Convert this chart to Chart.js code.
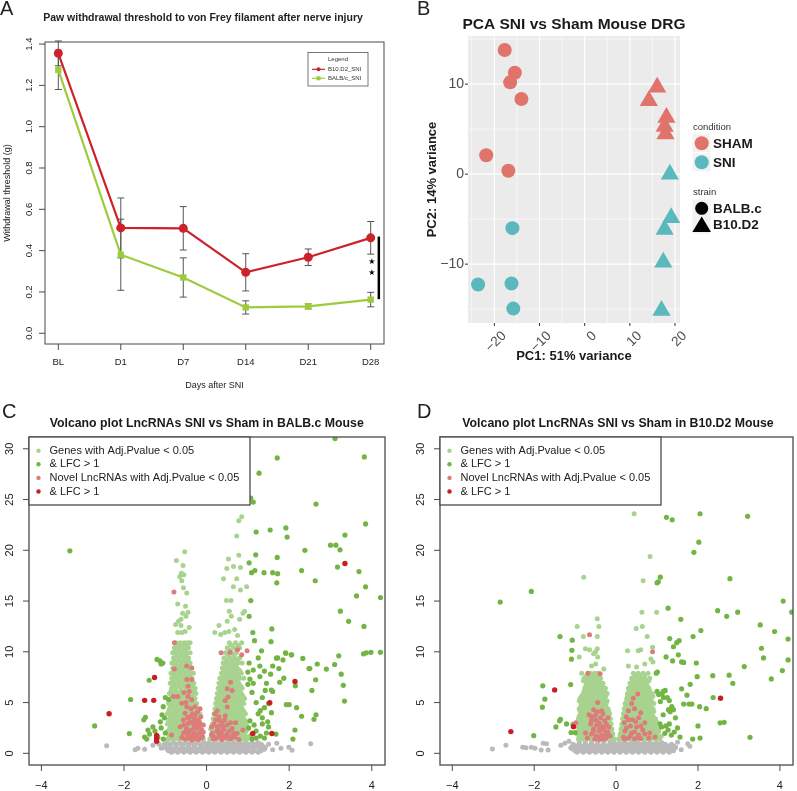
<!DOCTYPE html>
<html>
<head>
<meta charset="utf-8">
<title>SNI figure</title>
<script src="https://cdn.jsdelivr.net/npm/chart.js@4.4.1/dist/chart.umd.min.js"></script>
<style>
  body { margin: 0; background: #fff; }
  #page { position: relative; width: 797px; height: 791px; overflow: hidden; }
  .panel { position: absolute; }
  canvas { display: block; }
</style>
</head>
<body>
<div id="page">
  <div class="panel" style="left:0;top:0"><canvas id="chartA" width="400" height="395"></canvas></div>
  <div class="panel" style="left:400px;top:0"><canvas id="chartB" width="397" height="395"></canvas></div>
  <div class="panel" style="left:0;top:395px"><canvas id="chartC" width="400" height="396"></canvas></div>
  <div class="panel" style="left:400px;top:395px"><canvas id="chartD" width="397" height="396"></canvas></div>
</div>
<script>
/* ── DATA ─────────────────────────────────────────────── */

// A: von Frey thresholds (mean ± sem)
const days = ["BL", "D1", "D7", "D14", "D21", "D28"];
const b10Mean  = [1.355, 0.51, 0.508, 0.295, 0.368, 0.462];
const b10Sem   = [0.06, 0.145, 0.105, 0.09, 0.04, 0.079];
const balbMean = [1.275, 0.38, 0.27, 0.125, 0.13, 0.163];
const balbSem  = [0.095, 0.172, 0.095, 0.032, 0.012, 0.035];
const thresholdTicks = [0, 0.2, 0.4, 0.6, 0.8, 1.0, 1.2, 1.4];
const sigSpan  = [0.468, 0.165];
const sigStars = [0.345, 0.292];

// B: PCA coordinates [PC1, PC2]
const shamBalb = [[-17.7, 13.8], [-15.45, 11.26], [-16.5, 10.2], [-14.0, 8.35], [-21.8, 2.1], [-16.9, 0.37]];
const shamB10  = [[16.05, 9.65], [14.2, 8.15], [18.1, 6.3], [17.7, 5.3], [17.9, 4.45]];
const sniBalb  = [[-16.0, -6.0], [-23.6, -12.26], [-16.2, -12.15], [-15.8, -14.94]];
const sniB10   = [[18.85, -0.02], [19.15, -4.85], [17.7, -6.15], [17.4, -9.8], [17.0, -15.15]];
const pcaXTicks = [-20, -10, 0, 10, 20];
const pcaYTicks = [-10, 0, 10];

// C/D shared ticks
const lfcTicks = [-4, -2, 0, 2, 4];
const padjTicks = [0, 5, 10, 15, 20, 25, 30];
const volcanoLegend = ["Genes with Adj.Pvalue < 0.05", "& LFC > 1", "Novel LncRNAs with Adj.Pvalue < 0.05", "& LFC > 1"];

// C: BALB.c volcano. rows are [y, x, x, ...], pairs are [x, y]
const cGreyRows = [
  [0.1, -0.85, -0.7, -0.55, -0.4, -0.25, -0.1, 0.05, 0.2, 0.35, 0.5, 0.65, 0.8, 0.95, 1.1, 1.25],
  [0.25, -0.92, -0.78, -0.62, -0.48, -0.32, -0.18, -0.02, 0.12, 0.28, 0.42, 0.58, 0.72, 0.88, 1.02, 1.18, 1.32],
  [0.4, -0.95, -0.8, -0.65, -0.5, -0.35, -0.2, -0.05, 0.1, 0.25, 0.4, 0.55, 0.7, 0.85, 1.0, 1.15, 1.3, 1.4],
  [0.58, -1.05, -0.9, -0.75, -0.58, -0.42, -0.28, -0.12, 0.05, 0.2, 0.35, 0.5, 0.65, 0.8, 0.95, 1.12, 1.28, 1.42],
  [0.75, -1.0, -0.88, -0.74, -0.6, -0.45, -0.3, -0.15, 0.0, 0.15, 0.3, 0.45, 0.6, 0.75, 0.9, 1.05, 1.2, 1.35],
  [0.9, -1.02, -0.88, -0.72, -0.58, -0.42, -0.28, -0.12, 0.02, 0.12, 0.28, 0.42, 0.58, 0.72, 0.88, 1.02, 1.18, 1.32],
  [1.05, -0.95, -0.8, -0.65, -0.5, -0.35, -0.2, -0.06, 0.06, 0.2, 0.35, 0.5, 0.65, 0.8, 0.95, 1.1, 1.25]
];
const cGreyOut = [[-2.42, 0.75], [-1.73, 0.35], [-1.66, 0.5], [-1.5, 0.4], [-1.3, 0.8], [-1.2, 1.1], [-1.1, 0.5], [-1.15, 0.9],
  [1.6, 0.35], [1.5, 0.9], [1.7, 1.0], [2.52, 0.95], [1.99, 0.6], [2.07, 0.3], [1.8, 0.5]];
const cLightRows = [
  [1.4, -0.95, -0.85, -0.75, -0.65, -0.55, -0.45, -0.35, -0.25, -0.15, -0.08, 0.08, 0.18, 0.28, 0.38, 0.48, 0.58, 0.68, 0.78, 0.88, 0.98],
  [1.65, -0.9, -0.8, -0.7, -0.6, -0.5, -0.4, -0.3, -0.2, -0.1, 0.13, 0.23, 0.33, 0.43, 0.53, 0.63, 0.73, 0.83, 0.93, 1.03],
  [1.9, -0.92, -0.82, -0.7, -0.6, -0.5, -0.4, -0.3, -0.2, -0.12, 0.12, 0.22, 0.32, 0.42, 0.52, 0.62, 0.72, 0.82, 0.92],
  [2.15, -0.95, -0.85, -0.75, -0.64, -0.52, -0.4, -0.28, -0.17, 0.15, 0.25, 0.35, 0.45, 0.55, 0.65, 0.75, 0.85, 0.95],
  [2.4, -0.9, -0.8, -0.7, -0.58, -0.46, -0.34, -0.22, -0.13, 0.1, 0.2, 0.3, 0.4, 0.5, 0.6, 0.7, 0.8, 0.9, 1.0],
  [2.65, -0.87, -0.77, -0.66, -0.54, -0.42, -0.3, -0.19, 0.12, 0.22, 0.33, 0.43, 0.53, 0.63, 0.73, 0.83, 0.93],
  [2.9, -0.95, -0.84, -0.74, -0.62, -0.5, -0.38, -0.27, -0.15, 0.14, 0.24, 0.34, 0.46, 0.56, 0.66, 0.76, 0.86, 0.96],
  [3.15, -0.92, -0.82, -0.71, -0.6, -0.48, -0.36, -0.24, -0.17, 0.2, 0.3, 0.41, 0.52, 0.62, 0.73, 0.84, 0.95],
  [3.4, -0.9, -0.8, -0.68, -0.56, -0.44, -0.32, -0.2, 0.16, 0.26, 0.36, 0.48, 0.58, 0.68, 0.8, 0.9],
  [3.65, -0.87, -0.76, -0.64, -0.52, -0.4, -0.28, -0.2, 0.22, 0.33, 0.44, 0.55, 0.65, 0.76, 0.88],
  [3.9, -0.95, -0.85, -0.73, -0.6, -0.48, -0.36, -0.24, -0.16, 0.18, 0.28, 0.38, 0.5, 0.6, 0.7, 0.82, 0.94],
  [4.15, -0.92, -0.8, -0.69, -0.57, -0.45, -0.33, -0.22, 0.24, 0.34, 0.46, 0.57, 0.68, 0.8, 0.9],
  [4.4, -0.9, -0.78, -0.66, -0.54, -0.42, -0.3, -0.2, 0.2, 0.3, 0.42, 0.52, 0.62, 0.74, 0.86],
  [4.65, -0.86, -0.74, -0.62, -0.5, -0.38, -0.28, 0.26, 0.38, 0.49, 0.6, 0.71, 0.83],
  [4.9, -0.92, -0.82, -0.7, -0.58, -0.46, -0.34, -0.24, 0.22, 0.32, 0.44, 0.54, 0.66, 0.78, 0.9],
  [5.15, -0.9, -0.79, -0.67, -0.55, -0.43, -0.31, 0.28, 0.39, 0.5, 0.61, 0.73, 0.85],
  [5.4, -0.88, -0.76, -0.64, -0.52, -0.4, -0.28, 0.24, 0.34, 0.46, 0.56, 0.68, 0.8, 0.92],
  [5.65, -0.84, -0.72, -0.6, -0.48, -0.36, 0.3, 0.42, 0.53, 0.64, 0.76, 0.88],
  [5.9, -0.9, -0.8, -0.68, -0.56, -0.44, -0.32, -0.26, 0.26, 0.38, 0.48, 0.6, 0.72, 0.84],
  [6.15, -0.86, -0.74, -0.62, -0.5, -0.38, -0.3, 0.32, 0.44, 0.56, 0.68, 0.8],
  [6.4, -0.85, -0.74, -0.62, -0.5, -0.38, -0.28, 0.28, 0.4, 0.5, 0.62, 0.74, 0.86],
  [6.65, -0.8, -0.68, -0.56, -0.44, -0.34, 0.34, 0.46, 0.58, 0.7, 0.82],
  [6.9, -0.88, -0.78, -0.66, -0.54, -0.42, -0.31, 0.3, 0.42, 0.54, 0.66, 0.78],
  [7.15, -0.82, -0.7, -0.58, -0.46, -0.35, 0.37, 0.5, 0.62, 0.74],
  [7.4, -0.84, -0.72, -0.6, -0.48, -0.36, 0.32, 0.44, 0.56, 0.68, 0.8, 0.9],
  [7.65, -0.79, -0.66, -0.54, -0.42, 0.4, 0.52, 0.64, 0.77],
  [7.9, -0.86, -0.76, -0.64, -0.52, -0.4, -0.32, 0.36, 0.48, 0.6, 0.72, 0.84],
  [8.15, -0.8, -0.68, -0.56, -0.44, 0.42, 0.55, 0.68, 0.8],
  [8.4, -0.82, -0.7, -0.58, -0.46, -0.36, 0.38, 0.5, 0.62, 0.74],
  [8.65, -0.76, -0.64, -0.52, -0.42, 0.45, 0.58, 0.7],
  [8.9, -0.84, -0.74, -0.62, -0.5, -0.4, 0.4, 0.52, 0.64, 0.76, 0.86],
  [9.15, -0.78, -0.66, -0.54, -0.45, 0.48, 0.62, 0.74],
  [9.4, -0.8, -0.68, -0.56, -0.44, 0.42, 0.56, 0.68, 0.8],
  [9.65, -0.74, -0.62, -0.5, 0.52, 0.66],
  [9.9, -0.82, -0.72, -0.6, -0.48, -0.4, 0.46, 0.6, 0.72],
  [10.15, -0.76, -0.64, -0.52, 0.56, 0.72],
  [10.4, -0.78, -0.66, -0.54, -0.44, 0.5, 0.66, 0.8],
  [10.65, -0.7, -0.58, -0.48, 0.6, 0.76],
  [10.9, -0.74, -0.64, -0.54, -0.46, -0.4, 0.55, 0.7, 0.85]
];
const cLightOut = [[-0.7, 11.9], [-0.6, 11.9], [-0.52, 12.0], [-0.62, 13.2], [-0.5, 13.5], [-0.58, 13.8], [-0.45, 13.9], [-0.68, 13.0],
  [-0.7, 14.7], [-0.51, 14.5], [-0.56, 16.3], [-0.48, 15.8], [-0.6, 17.0], [-0.55, 17.6], [-0.61, 17.75], [-0.65, 17.4], [-0.57, 18.5],
  [-0.73, 19.0], [-0.53, 19.85], [-0.62, 12.6], [-0.42, 12.4], [-0.75, 12.7],
  [0.34, 11.7], [0.44, 11.9], [0.54, 12.0], [0.5, 13.0], [0.6, 13.5], [0.55, 14.0], [0.8, 13.2], [0.88, 13.8], [0.92, 14.0], [0.48, 15.05],
  [0.59, 15.05], [0.65, 16.4], [0.82, 16.1], [0.97, 16.4], [0.41, 17.2], [0.73, 17.2], [0.49, 18.2], [0.65, 18.4], [0.53, 19.15], [0.78, 19.5],
  [0.82, 18.3], [0.73, 21.4], [0.85, 23.3], [0.78, 22.9], [0.86, 24.75], [0.45, 27.7], [0.2, 11.9], [0.3, 12.6], [0.75, 11.6], [0.68, 12.2]];
const cGreen = [[3.11, 31.0], [-3.31, 19.95], [1.71, 29.1], [3.82, 29.2], [1.27, 27.6], [1.07, 25.15], [1.13, 24.75], [2.65, 24.55],
  [3.85, 22.6], [1.92, 22.2], [1.54, 22.0], [1.2, 21.8], [1.95, 21.3], [3.35, 21.5], [3.0, 20.5], [3.13, 20.5], [3.23, 20.05], [2.38, 20.0],
  [1.19, 19.55], [1.71, 19.3], [1.03, 18.77], [3.17, 18.35], [3.69, 17.9], [2.3, 18.0], [1.6, 17.8], [1.72, 17.7], [1.39, 17.8], [1.09, 17.8],
  [1.17, 18.0], [2.63, 17.0], [1.7, 16.8], [3.85, 16.4], [3.63, 15.5], [4.21, 15.35], [1.07, 15.05], [3.24, 14.0], [3.44, 13.0], [1.03, 13.5],
  [1.58, 12.25], [3.81, 12.5], [1.12, 11.9], [1.16, 11.1], [1.56, 11.0], [3.98, 9.95], [4.21, 9.95], [3.8, 9.8], [3.87, 9.9], [1.92, 9.85],
  [2.06, 9.7], [1.85, 9.2], [1.72, 9.4], [2.33, 9.35], [1.25, 9.4], [1.33, 10.1], [3.2, 9.6], [2.68, 8.8], [2.9, 8.3], [3.1, 8.75], [2.5, 8.35],
  [1.69, 9.37], [1.91, 9.9], [2.05, 9.7], [1.75, 8.35], [2.48, 8.35],
  [-1.2, 9.25], [-1.13, 9.1], [-1.1, 8.8], [-1.06, 8.9], [3.26, 7.8], [1.87, 7.4], [1.77, 7.0], [2.64, 7.25], [2.15, 6.65], [3.31, 6.7],
  [-1.39, 7.2], [2.55, 6.2], [1.42, 6.2], [1.6, 6.1], [1.6, 8.6], [1.4, 8.1], [-1.84, 5.3], [-2.71, 2.7], [-1.87, 1.95], [-1.48, 3.55],
  [-1.52, 3.3], [-1.08, 3.8], [-1.05, 4.6], [-1.0, 5.5], [-0.92, 5.3], [-1.1, 2.5], [-1.3, 2.6], [-1.42, 2.3], [-1.5, 1.6], [-1.38, 1.9],
  [-1.25, 2.2], [-1.18, 1.6], [-1.05, 1.4], [-1.0, 2.0], [-1.45, 1.4], [-1.12, 3.1], [-1.02, 3.5],
  [1.1, 1.4], [1.2, 1.5], [1.3, 1.7], [1.4, 1.5], [1.45, 2.0], [1.2, 2.2], [1.15, 2.8], [1.05, 3.2], [1.35, 3.5], [1.3, 4.2], [1.4, 4.5],
  [1.25, 3.9], [1.5, 2.6], [1.1, 1.9], [1.02, 2.5], [1.35, 2.9], [1.48, 3.1], [1.68, 1.9], [1.93, 4.8], [2.0, 4.8], [2.18, 4.5], [2.3, 3.65],
  [2.65, 3.8], [2.6, 3.35], [3.34, 5.15], [2.14, 2.3], [2.09, 1.4], [1.5, 4.9], [1.0, 6.8], [1.1, 6.0], [1.05, 7.3], [1.0, 8.0], [1.55, 7.8],
  [1.35, 5.5], [1.2, 5.0], [1.13, 6.9], [1.29, 7.56], [1.45, 6.9], [1.57, 6.24], [1.13, 8.2], [1.03, 8.9], [1.29, 8.6], [1.57, 4.0]];
const cPink = [[-0.79, 15.9], [-0.78, 10.9], [-0.78, 8.3], [-0.48, 8.6], [-0.36, 8.4], [-0.36, 7.26], [-0.48, 7.26], [-0.45, 6.6],
  [-0.42, 6.1], [-0.7, 5.6], [-0.8, 5.6], [-0.45, 5.6], [-0.36, 5.27], [-0.6, 4.93], [-0.48, 4.6], [-0.38, 4.4], [-0.28, 4.6], [-0.16, 4.4],
  [-0.52, 3.94], [-0.4, 3.6], [-0.28, 3.75], [-0.2, 3.3], [-0.56, 3.28], [-0.45, 2.95], [-0.32, 2.95], [-0.16, 2.95], [-0.08, 2.8],
  [-0.64, 2.62], [-0.48, 2.45], [-0.36, 2.3], [-0.24, 2.45], [-0.12, 2.3], [-0.56, 1.97], [-0.45, 1.8], [-0.3, 1.97], [-0.18, 1.97],
  [-0.1, 1.64], [-0.85, 1.8], [-0.52, 1.4], [-0.36, 1.31], [-0.2, 1.35], [-0.42, 2.1], [-0.26, 1.55], [-0.4, 1.55], [-0.6, 1.55],
  [-0.3, 3.4], [-0.55, 6.0], [-0.5, 5.0],
  [-0.44, 1.5], [-0.34, 1.7], [-0.24, 1.8], [-0.14, 1.5], [-0.5, 2.2], [-0.3, 2.6], [-0.18, 2.7], [-0.4, 3.1], [-0.26, 3.0], [-0.12, 2.0],
  [-0.46, 3.5], [-0.34, 3.9], [-0.22, 4.1], [-0.55, 2.8], [-0.3, 1.4], [-0.14, 3.6], [-0.08, 2.1],
  [0.35, 9.9], [0.57, 9.95], [0.75, 10.2], [0.85, 9.7], [0.98, 10.1], [0.58, 7.0], [0.5, 6.35], [0.62, 6.2], [0.52, 5.55], [0.45, 5.2],
  [0.5, 4.56], [0.3, 3.6], [0.45, 3.7], [0.22, 3.3], [0.38, 3.0], [0.58, 3.0], [0.7, 3.0], [0.26, 2.62], [0.42, 2.35], [0.62, 2.45],
  [0.14, 1.97], [0.3, 1.9], [0.5, 1.9], [0.66, 1.95], [0.18, 1.6], [0.38, 1.35], [0.58, 1.4], [0.78, 1.35], [0.74, 1.97], [0.88, 2.3],
  [0.12, 2.6], [0.25, 2.2], [0.16, 1.4], [0.45, 1.6], [0.68, 1.6], [0.35, 2.8], [0.2, 3.9],
  [0.22, 1.45], [0.32, 1.6], [0.42, 1.7], [0.52, 1.5], [0.28, 2.3], [0.4, 2.6], [0.5, 2.8], [0.18, 2.9], [0.32, 3.2], [0.55, 2.2],
  [0.12, 1.8], [0.44, 3.3], [0.26, 4.2], [0.62, 1.7], [0.36, 2.1]];
const cRed = [[-2.36, 3.9], [-1.26, 7.47], [-1.5, 5.22], [-1.28, 5.22], [-1.21, 1.75], [-1.21, 1.45], [-1.21, 1.2],
  [1.53, 4.98], [1.12, 1.95], [1.58, 1.95], [2.14, 7.08], [3.35, 18.7]];

// D: B10.D2 volcano
const dGreyRows = [
  [0.1, -0.95, -0.8, -0.65, -0.5, -0.35, -0.2, -0.05, 0.1, 0.25, 0.4, 0.55, 0.7, 0.85, 1.0, 1.15, 1.3],
  [0.25, -1.0, -0.85, -0.7, -0.55, -0.4, -0.25, -0.1, 0.05, 0.2, 0.35, 0.5, 0.65, 0.8, 0.95, 1.1, 1.25, 1.4],
  [0.4, -1.05, -0.9, -0.75, -0.6, -0.45, -0.3, -0.15, 0.0, 0.15, 0.3, 0.45, 0.6, 0.75, 0.9, 1.05, 1.2, 1.35],
  [0.58, -1.1, -0.95, -0.8, -0.65, -0.5, -0.35, -0.2, -0.05, 0.1, 0.25, 0.4, 0.55, 0.7, 0.85, 1.0, 1.15, 1.3, 1.45],
  [0.75, -1.0, -0.85, -0.7, -0.55, -0.4, -0.25, -0.1, 0.05, 0.2, 0.35, 0.5, 0.65, 0.8, 0.95, 1.1, 1.25, 1.4],
  [0.9, -1.05, -0.9, -0.75, -0.6, -0.45, -0.3, -0.15, 0.0, 0.15, 0.3, 0.45, 0.6, 0.75, 0.9, 1.05, 1.2, 1.35],
  [1.05, -0.9, -0.75, -0.6, -0.45, -0.3, -0.15, -0.05, 0.08, 0.22, 0.38, 0.52, 0.68, 0.82, 0.98, 1.12]
];
const dGreyOut = [[-3.02, 0.42], [-2.69, 0.8], [-2.28, 0.6], [-2.2, 0.55], [-2.07, 0.6], [-1.98, 0.5], [-1.83, 0.33], [-1.78, 1.0],
  [-1.7, 0.95], [-1.66, 0.33], [-1.35, 0.8], [-1.25, 1.0], [-1.15, 1.2], [-1.1, 0.5], [1.59, 0.35], [1.75, 0.95], [1.8, 0.7], [1.5, 1.1], [1.45, 0.6]];
const dLightRows = [
  [1.4, -0.92, -0.82, -0.72, -0.62, -0.52, -0.42, -0.32, -0.22, -0.12, -0.05, 0.06, 0.16, 0.26, 0.36, 0.46, 0.56, 0.66, 0.76, 0.86, 0.96, 1.06],
  [1.65, -0.9, -0.8, -0.7, -0.6, -0.5, -0.4, -0.3, -0.2, -0.1, 0.1, 0.2, 0.3, 0.4, 0.5, 0.6, 0.7, 0.8, 0.9, 1.0, 1.1],
  [1.9, -0.95, -0.85, -0.75, -0.65, -0.55, -0.45, -0.35, -0.25, -0.15, -0.08, 0.1, 0.2, 0.3, 0.4, 0.5, 0.6, 0.7, 0.8, 0.9, 1.0],
  [2.15, -0.92, -0.82, -0.72, -0.62, -0.52, -0.42, -0.32, -0.22, -0.12, 0.14, 0.24, 0.34, 0.44, 0.54, 0.64, 0.74, 0.84, 0.94, 1.04],
  [2.4, -0.9, -0.8, -0.7, -0.6, -0.5, -0.4, -0.3, -0.2, -0.1, 0.12, 0.22, 0.32, 0.42, 0.52, 0.62, 0.72, 0.82, 0.92, 1.02],
  [2.65, -0.95, -0.85, -0.75, -0.65, -0.55, -0.45, -0.35, -0.25, -0.15, 0.16, 0.26, 0.36, 0.46, 0.56, 0.66, 0.76, 0.86, 0.96],
  [2.9, -0.88, -0.78, -0.68, -0.58, -0.48, -0.38, -0.28, -0.18, -0.12, 0.14, 0.24, 0.34, 0.44, 0.54, 0.64, 0.74, 0.84, 0.94],
  [3.15, -0.85, -0.75, -0.65, -0.55, -0.45, -0.35, -0.25, -0.17, 0.18, 0.28, 0.38, 0.48, 0.58, 0.68, 0.78, 0.88, 0.98],
  [3.4, -0.92, -0.82, -0.72, -0.62, -0.52, -0.42, -0.32, -0.22, -0.14, 0.16, 0.26, 0.36, 0.46, 0.56, 0.66, 0.76, 0.86, 0.96],
  [3.65, -0.9, -0.8, -0.7, -0.6, -0.5, -0.4, -0.3, -0.2, 0.2, 0.3, 0.4, 0.5, 0.6, 0.7, 0.8, 0.9],
  [3.9, -0.86, -0.76, -0.66, -0.56, -0.46, -0.36, -0.26, -0.16, 0.18, 0.28, 0.38, 0.48, 0.58, 0.68, 0.78, 0.88],
  [4.15, -0.88, -0.78, -0.68, -0.58, -0.48, -0.38, -0.28, -0.18, 0.22, 0.32, 0.42, 0.52, 0.62, 0.72, 0.82, 0.92],
  [4.4, -0.9, -0.8, -0.7, -0.6, -0.5, -0.4, -0.3, -0.2, 0.2, 0.3, 0.4, 0.5, 0.6, 0.7, 0.8, 0.9],
  [4.65, -0.86, -0.76, -0.66, -0.56, -0.46, -0.36, -0.26, 0.24, 0.34, 0.44, 0.54, 0.64, 0.74, 0.84],
  [4.9, -0.84, -0.74, -0.64, -0.54, -0.44, -0.34, -0.24, 0.22, 0.32, 0.42, 0.52, 0.62, 0.72, 0.82, 0.92],
  [5.15, -0.9, -0.8, -0.7, -0.6, -0.5, -0.4, -0.3, -0.22, 0.26, 0.36, 0.46, 0.56, 0.66, 0.76, 0.86],
  [5.4, -0.88, -0.78, -0.68, -0.58, -0.48, -0.38, -0.28, 0.26, 0.36, 0.46, 0.56, 0.66, 0.76, 0.86],
  [5.65, -0.84, -0.74, -0.64, -0.54, -0.44, -0.34, -0.25, 0.28, 0.38, 0.48, 0.58, 0.68, 0.78, 0.9],
  [5.9, -0.8, -0.7, -0.6, -0.5, -0.4, -0.3, -0.22, 0.28, 0.38, 0.48, 0.58, 0.68, 0.78, 0.88],
  [6.15, -0.78, -0.68, -0.58, -0.48, -0.38, -0.28, 0.32, 0.42, 0.52, 0.62, 0.72, 0.82],
  [6.4, -0.76, -0.66, -0.56, -0.46, -0.36, -0.26, 0.3, 0.4, 0.5, 0.6, 0.7, 0.8],
  [6.65, -0.74, -0.64, -0.54, -0.44, -0.34, 0.36, 0.46, 0.56, 0.66, 0.76],
  [6.9, -0.72, -0.62, -0.52, -0.42, -0.32, 0.34, 0.44, 0.54, 0.64, 0.74],
  [7.15, -0.8, -0.7, -0.6, -0.5, -0.4, 0.4, 0.5, 0.6, 0.7, 0.8],
  [7.4, -0.78, -0.68, -0.58, -0.48, -0.38, 0.38, 0.5, 0.6, 0.7, 0.82],
  [7.65, -0.72, -0.62, -0.5, -0.42, 0.46, 0.58, 0.7],
  [7.9, -0.84, -0.62, -0.52, -0.44, 0.42, 0.54, 0.66, 0.78]
];
const dLightOut = [[-0.6, 8.6], [-0.5, 8.8], [-0.45, 9.5], [-0.75, 10.3], [-0.65, 10.2], [-0.5, 10.0], [-0.46, 10.3], [-0.55, 9.8],
  [-0.8, 11.5], [-0.46, 11.5], [-0.42, 12.5], [-0.95, 12.5], [-0.46, 13.25], [-0.3, 8.3], [-0.79, 17.35], [-0.9, 9.5],
  [0.3, 8.6], [0.5, 8.5], [0.7, 8.8], [0.85, 9.3], [0.28, 10.1], [0.54, 10.1], [0.6, 10.2], [0.89, 10.45], [0.49, 12.3], [0.64, 12.5],
  [0.63, 13.9], [0.99, 13.9], [0.66, 17.0], [0.83, 19.4], [0.44, 23.6], [0.76, 11.5], [0.9, 9.0]];
const dGreen = [[-2.07, 15.95], [-2.83, 14.9], [4.08, 15.0], [4.29, 13.9], [3.52, 12.65], [2.48, 14.05], [2.97, 13.9], [2.7, 13.5],
  [1.27, 14.3], [1.58, 13.2], [3.87, 12.0], [2.07, 12.1], [-1.37, 11.5], [-1.07, 11.15], [-1.08, 10.15], [-1.09, 9.27], [-1.11, 6.77],
  [3.55, 10.35], [3.6, 9.4], [4.2, 11.25], [1.54, 11.1], [1.48, 10.9], [1.4, 10.5], [1.31, 11.3], [1.22, 9.5], [1.38, 9.1], [1.52, 9.7],
  [1.6, 9.0], [1.65, 8.95], [1.88, 11.5], [1.96, 8.9], [1.01, 8.0], [0.98, 7.9], [1.98, 7.55], [2.36, 7.65], [2.76, 7.7], [3.13, 8.55],
  [3.79, 7.33], [4.06, 8.15], [4.2, 9.2], [2.85, 6.9], [1.81, 6.8], [1.6, 6.35], [1.73, 5.73], [1.78, 4.85], [1.65, 4.85], [1.85, 4.85],
  [2.04, 4.6], [2.2, 4.4], [2.37, 5.5], [2.54, 3.0], [2.64, 3.05], [2.0, 2.7], [3.27, 1.58], [2.05, 1.5], [1.87, 1.4], [1.56, 1.6],
  [1.23, 23.25], [1.37, 23.0], [2.05, 23.6], [3.21, 23.35], [2.02, 20.8], [1.9, 19.8], [1.08, 17.35], [2.78, 17.2], [1.0, 16.8], [1.03, 16.9],
  [1.19, 1.97], [1.27, 2.3], [1.35, 1.8], [1.11, 2.6], [1.07, 2.9], [1.22, 2.7], [1.3, 2.9], [1.15, 3.8], [1.28, 4.3], [1.32, 4.1],
  [1.4, 4.3], [1.36, 4.6], [1.08, 5.1], [1.3, 5.2], [1.16, 5.5], [1.25, 5.5], [1.12, 5.85], [1.0, 6.1], [1.04, 5.8], [1.15, 6.1],
  [1.2, 6.2], [1.45, 3.5], [1.42, 2.1], [1.5, 2.5],
  [-1.79, 6.65], [-1.74, 5.33], [-1.8, 4.55], [-1.36, 3.35], [-1.38, 3.2], [-1.47, 2.6], [-1.21, 2.9], [-1.05, 2.85], [-1.1, 2.05],
  [-1.0, 2.05], [-2.01, 1.74]];
const dPink = [[-0.65, 11.67], [-0.69, 7.9], [-0.39, 7.85], [-0.66, 3.8], [-0.55, 4.3], [-0.45, 4.1], [-0.35, 4.2], [-0.6, 3.6],
  [-0.5, 3.3], [-0.38, 3.5], [-0.28, 3.2], [-0.62, 2.9], [-0.48, 2.8], [-0.36, 2.7], [-0.24, 2.9], [-0.55, 2.4], [-0.42, 2.2], [-0.3, 2.3],
  [-0.2, 2.1], [-0.6, 1.9], [-0.48, 1.7], [-0.35, 1.8], [-0.25, 1.5], [-0.52, 1.4], [-0.4, 1.35], [-0.7, 1.5], [-0.32, 3.9], [-0.45, 5.0],
  [-0.75, 2.0], [-0.98, 3.0], [-0.6, 3.2], [-0.24, 1.9],
  [-0.45, 1.6], [-0.3, 2.5], [-0.18, 2.6], [-0.42, 3.0], [-0.5, 3.8], [-0.2, 3.5], [-0.4, 2.45], [-0.56, 2.1], [-0.3, 1.4], [-0.15, 1.7],
  [0.89, 10.0], [0.42, 5.42], [0.38, 4.9], [0.53, 5.85], [0.3, 4.2], [0.45, 4.4], [0.6, 4.0], [0.25, 3.6], [0.4, 3.3], [0.55, 3.5],
  [0.7, 3.0], [0.2, 3.0], [0.35, 2.7], [0.5, 2.6], [0.65, 2.3], [0.82, 2.0], [0.7, 1.9], [0.22, 2.2], [0.38, 2.0], [0.55, 1.8],
  [0.3, 1.5], [0.45, 1.4], [0.6, 1.45], [0.8, 1.5], [0.95, 1.6], [0.18, 1.6],
  [0.25, 2.5], [0.45, 2.1], [0.6, 2.7], [0.3, 3.3], [0.48, 3.1], [0.35, 1.7], [0.52, 1.55], [0.2, 1.4]];
const dRed = [[2.55, 5.42], [-1.5, 6.25], [-1.04, 2.63], [-2.57, 2.14]];

/* ── STYLE ────────────────────────────────────────────── */
const FONT = "'Liberation Sans', Arial, Helvetica, sans-serif";
Chart.defaults.font.family = FONT;
const RED_A = "#cc2229", GREEN_A = "#9dcb3c";
const SHAM = "#e0736b", SNI = "#5bb8bd";
const VC = { grey: "#bababa", light: "#a8d38f", green: "#72b545", pink: "#de7b7b", red: "#c81e23" };

/* ── HELPERS ──────────────────────────────────────────── */
const pairs = (list) => list.map(([x, y]) => ({ x, y }));
const fromRows = (rows) => rows.flatMap(([y, ...xs]) => xs.map((x) => ({ x, y })));

function txt(ctx, s, x, y, font, color, align = "center", base = "middle", rot = 0) {
  ctx.save();
  ctx.font = font; ctx.fillStyle = color; ctx.textAlign = align; ctx.textBaseline = base;
  ctx.translate(x, y);
  if (rot) ctx.rotate(rot);
  ctx.fillText(s, 0, 0);
  ctx.restore();
}
function seg(ctx, x1, y1, x2, y2) {
  ctx.beginPath(); ctx.moveTo(x1, y1); ctx.lineTo(x2, y2); ctx.stroke();
}

// R base-graphics style box + axes
function rAxes(chart, o) {
  const { ctx, chartArea: a, scales: { x, y } } = chart;
  ctx.save();
  ctx.strokeStyle = "#4a4a4a"; ctx.lineWidth = o.lw;
  ctx.strokeRect(a.left, a.top, a.right - a.left, a.bottom - a.top);
  ctx.lineWidth = 1;
  o.xTicks.forEach((v, i) => {
    const px = x.getPixelForValue(v);
    seg(ctx, px, a.bottom, px, a.bottom + o.tick);
    txt(ctx, o.xLabels[i], px, a.bottom + o.xOff, o.font, "#222");
  });
  o.yTicks.forEach((v, i) => {
    const py = y.getPixelForValue(v);
    seg(ctx, a.left - o.tick, py, a.left, py);
    txt(ctx, o.yLabels[i], a.left - o.yOff, py, o.font, "#222", "center", "middle", -Math.PI / 2);
  });
  ctx.restore();
}

const baseOpts = (pad, xr, yr) => ({
  responsive: false, animation: false, events: [],
  layout: { padding: pad },
  plugins: { legend: { display: false }, tooltip: { enabled: false }, title: { display: false } },
  scales: {
    x: { type: "linear", display: false, min: xr[0], max: xr[1] },
    y: { type: "linear", display: false, min: yr[0], max: yr[1] }
  }
});

/* ── A: WITHDRAWAL THRESHOLD ──────────────────────────── */
function renderA() {
  const series = [
    { mean: b10Mean, sem: b10Sem },
    { mean: balbMean, sem: balbSem }
  ];
  const deco = {
    id: "decoA",
    beforeDatasetsDraw(chart) {
      const { ctx, scales: { x, y } } = chart;
      ctx.save(); ctx.strokeStyle = "#555"; ctx.lineWidth = 1;
      series.forEach((s) => s.mean.forEach((m, i) => {
        const px = x.getPixelForValue(i);
        const t = y.getPixelForValue(m + s.sem[i]), b = y.getPixelForValue(m - s.sem[i]);
        seg(ctx, px, t, px, b); seg(ctx, px - 3.5, t, px + 3.5, t); seg(ctx, px - 3.5, b, px + 3.5, b);
      }));
      ctx.restore();
    },
    afterDraw(chart) {
      const { ctx, chartArea: a, scales: { x, y } } = chart;
      rAxes(chart, {
        lw: 1, tick: 6, xOff: 18, yOff: 16, font: "9.5px " + FONT,
        xTicks: days.map((d, i) => i), xLabels: days,
        yTicks: thresholdTicks, yLabels: thresholdTicks.map((v) => v.toFixed(1))
      });
      txt(ctx, "A", 0, 9, "20px " + FONT, "#222", "left");
      txt(ctx, "Paw withdrawal threshold to von Frey filament after nerve injury", 203, 18, "bold 10.5px " + FONT, "#222");
      txt(ctx, "Withdrawal threshold (g)", 8, (a.top + a.bottom) / 2, "9px " + FONT, "#222", "center", "middle", -Math.PI / 2);
      txt(ctx, "Days after SNI", (a.left + a.right) / 2, 386, "9px " + FONT, "#222");
      // significance bracket at D28
      ctx.save(); ctx.strokeStyle = "#000"; ctx.lineWidth = 2.5;
      const bx = x.getPixelForValue(5.13);
      seg(ctx, bx, y.getPixelForValue(sigSpan[0]), bx, y.getPixelForValue(sigSpan[1]));
      ctx.restore();
      sigStars.forEach((v) => txt(ctx, "★", x.getPixelForValue(5.02), y.getPixelForValue(v), "8px 'DejaVu Sans'", "#000"));
      // legend
      ctx.save(); ctx.strokeStyle = "#555"; ctx.lineWidth = 0.8;
      ctx.strokeRect(308, 52.5, 60, 33.5);
      txt(ctx, "Legend", 338, 59.5, "6px " + FONT, "#333");
      [[RED_A, "B10.D2_SNI", 69.3, "circle"], [GREEN_A, "BALB/c_SNI", 78.3, "rect"]].forEach(([c, lab, ly, shape]) => {
        ctx.strokeStyle = c; ctx.lineWidth = 1.2; seg(ctx, 312, ly, 325, ly);
        ctx.fillStyle = c; ctx.beginPath();
        if (shape === "circle") ctx.arc(318.5, ly, 2, 0, Math.PI * 2); else ctx.rect(316.5, ly - 2, 4, 4);
        ctx.fill();
        txt(ctx, lab, 328, ly, "6px " + FONT, "#333", "left");
      });
      ctx.restore();
    }
  };
  const opts = baseOpts({ left: 45, right: 16, top: 42, bottom: 51 }, [-0.213, 5.213], [-0.052, 1.41]);
  new Chart(document.getElementById("chartA"), {
    type: "line",
    data: {
      datasets: [
        { label: "B10.D2_SNI", data: b10Mean.map((v, i) => ({ x: i, y: v })), borderColor: RED_A, backgroundColor: RED_A,
          borderWidth: 2.2, pointStyle: "circle", pointRadius: 4.5, pointBorderWidth: 0, tension: 0, order: 2 },
        { label: "BALB/c_SNI", data: balbMean.map((v, i) => ({ x: i, y: v })), borderColor: GREEN_A, backgroundColor: GREEN_A,
          borderWidth: 2.2, pointStyle: "rect", pointRadius: 4.5, pointBorderWidth: 0, tension: 0, order: 1 }
      ]
    },
    options: opts,
    plugins: [deco]
  });
}

/* ── B: PCA ───────────────────────────────────────────── */
function renderB() {
  const minorX = [-25, -15, -5, 5, 15], minorY = [-15, -5, 5, 15];
  const deco = {
    id: "decoB",
    beforeDatasetsDraw(chart) {
      const { ctx, chartArea: a, scales: { x, y } } = chart;
      ctx.save();
      ctx.fillStyle = "#ebebeb"; ctx.fillRect(a.left, a.top, a.right - a.left, a.bottom - a.top);
      ctx.strokeStyle = "#fff";
      ctx.lineWidth = 0.6;
      minorX.forEach((v) => { const p = x.getPixelForValue(v); seg(ctx, p, a.top, p, a.bottom); });
      minorY.forEach((v) => { const p = y.getPixelForValue(v); seg(ctx, a.left, p, a.right, p); });
      ctx.lineWidth = 1.2;
      pcaXTicks.forEach((v) => { const p = x.getPixelForValue(v); seg(ctx, p, a.top, p, a.bottom); });
      pcaYTicks.forEach((v) => { const p = y.getPixelForValue(v); seg(ctx, a.left, p, a.right, p); });
      ctx.restore();
    },
    afterDraw(chart) {
      const { ctx, chartArea: a, scales: { x, y } } = chart;
      const fmt = (v) => (v < 0 ? "\u2212" + Math.abs(v) : String(v));
      ctx.save(); ctx.strokeStyle = "#333"; ctx.lineWidth = 1;
      pcaYTicks.forEach((v) => {
        const p = y.getPixelForValue(v);
        seg(ctx, a.left - 3, p, a.left, p);
        txt(ctx, fmt(v), a.left - 4, p, "14px " + FONT, "#4d4d4d", "right");
      });
      pcaXTicks.forEach((v) => {
        const p = x.getPixelForValue(v);
        seg(ctx, p, a.bottom, p, a.bottom + 3);
        txt(ctx, fmt(v), p + 5, a.bottom + 6, "13.5px " + FONT, "#4d4d4d", "right", "top", -Math.PI / 4);
      });
      ctx.restore();
      txt(ctx, "B", 17, 9, "20px " + FONT, "#222", "left");
      txt(ctx, "PCA SNI vs Sham Mouse DRG", 174, 25, "bold 15.5px " + FONT, "#1a1a1a");
      txt(ctx, "PC1: 51% variance", (a.left + a.right) / 2, 356, "bold 13px " + FONT, "#1a1a1a");
      txt(ctx, "PC2: 14% variance", 32, (a.top + a.bottom) / 2, "bold 13px " + FONT, "#1a1a1a", "center", "middle", -Math.PI / 2);
      // legend
      ctx.save();
      txt(ctx, "condition", 293, 127.5, "9.5px " + FONT, "#333", "left");
      [[SHAM, "SHAM", 143.3], [SNI, "SNI", 162.3]].forEach(([c, lab, ly]) => {
        ctx.fillStyle = "#f2f2f2"; ctx.fillRect(292.5, ly - 9, 18, 18);
        ctx.fillStyle = c; ctx.beginPath(); ctx.arc(301.7, ly, 7, 0, Math.PI * 2); ctx.fill();
        txt(ctx, lab, 313, ly + 0.5, "bold 13.5px " + FONT, "#1a1a1a", "left");
      });
      txt(ctx, "strain", 293, 192.7, "9.5px " + FONT, "#333", "left");
      ctx.fillStyle = "#f2f2f2"; ctx.fillRect(292.5, 199.5, 18, 34);
      ctx.fillStyle = "#000";
      ctx.beginPath(); ctx.arc(301.7, 208.3, 6.5, 0, Math.PI * 2); ctx.fill();
      ctx.beginPath(); ctx.moveTo(301.7, 216.5); ctx.lineTo(311, 232); ctx.lineTo(292.4, 232); ctx.closePath(); ctx.fill();
      txt(ctx, "BALB.c", 313, 208.8, "bold 13.5px " + FONT, "#1a1a1a", "left");
      txt(ctx, "B10.D2", 313, 225.5, "bold 13.5px " + FONT, "#1a1a1a", "left");
      ctx.restore();
    }
  };
  const ds = (data, color, shape, r) => ({ data: pairs(data), backgroundColor: color, borderColor: color, pointStyle: shape,
    pointRadius: r, pointBorderWidth: 0, showLine: false });
  new Chart(document.getElementById("chartB"), {
    type: "scatter",
    data: {
      datasets: [
        ds(shamBalb, SHAM, "circle", 7), ds(shamB10, SHAM, "triangle", 10.5),
        ds(sniBalb, SNI, "circle", 7), ds(sniB10, SNI, "triangle", 10.5)
      ]
    },
    options: baseOpts({ left: 68, right: 117, top: 36, bottom: 72 }, [-25.83, 21.1], [-16.54, 15.35]),
    plugins: [deco]
  });
}

/* ── C/D: VOLCANO PLOTS ───────────────────────────────── */
function renderVolcano(id, letter, letterX, title, titleX, padLeft, padRight, sets) {
  const deco = {
    id: "deco" + letter,
    afterDraw(chart) {
      const { ctx, chartArea: a } = chart;
      rAxes(chart, {
        lw: 1.3, tick: 6, xOff: 21, yOff: 19, font: "11px " + FONT,
        xTicks: lfcTicks, xLabels: lfcTicks.map((v) => (v < 0 ? "\u2212" + Math.abs(v) : String(v))),
        yTicks: padjTicks, yLabels: padjTicks.map(String)
      });
      txt(ctx, letter, letterX, 17, "20px " + FONT, "#222", "left");
      txt(ctx, title, titleX, 28.5, "bold 12.3px " + FONT, "#1a1a1a");
      // legend box
      ctx.save();
      ctx.fillStyle = "#fff"; ctx.fillRect(a.left, a.top, 221, 68);
      ctx.strokeStyle = "#4a4a4a"; ctx.lineWidth = 1.3; ctx.strokeRect(a.left, a.top, 221, 68);
      [VC.light, VC.green, VC.pink, VC.red].forEach((c, i) => {
        const ly = a.top + 13.7 + i * 13.6;
        ctx.fillStyle = c; ctx.beginPath(); ctx.arc(a.left + 9.5, ly, 2.2, 0, Math.PI * 2); ctx.fill();
        txt(ctx, volcanoLegend[i], a.left + 20.5, ly, "11px " + FONT, "#222", "left");
      });
      ctx.restore();
    }
  };
  // higher "order" is painted first, so grey sits at the bottom and red on top
  const ds = (data, color, r, order) => ({ data, backgroundColor: color, borderColor: color, pointRadius: r,
    pointBorderWidth: 0, showLine: false, order });
  new Chart(document.getElementById(id), {
    type: "scatter",
    data: {
      datasets: [
        ds(sets.grey, VC.grey, 2.5, 5), ds(sets.light, VC.light, 2.5, 4), ds(sets.green, VC.green, 2.6, 3),
        ds(sets.pink, VC.pink, 2.5, 2), ds(sets.red, VC.red, 2.7, 1)
      ]
    },
    options: baseOpts({ left: padLeft, right: padRight, top: 42, bottom: 26 }, [-4.3, 4.32], [-1.15, 31.16]),
    plugins: [deco]
  });
}

/* ── INIT ─────────────────────────────────────────────── */
renderA();
renderB();
renderVolcano("chartC", "C", 2, "Volcano plot LncRNAs SNI vs Sham in BALB.c Mouse", 206.7, 29, 15, {
  grey: fromRows(cGreyRows).concat(pairs(cGreyOut)),
  light: fromRows(cLightRows).concat(pairs(cLightOut)),
  green: pairs(cGreen), pink: pairs(cPink), red: pairs(cRed)
});
renderVolcano("chartD", "D", 17, "Volcano plot LncRNAs SNI vs Sham in B10.D2 Mouse", 218, 40, 1, {
  grey: fromRows(dGreyRows).concat(pairs(dGreyOut)),
  light: fromRows(dLightRows).concat(pairs(dLightOut)),
  green: pairs(dGreen), pink: pairs(dPink), red: pairs(dRed)
});
</script>
</body>
</html>
